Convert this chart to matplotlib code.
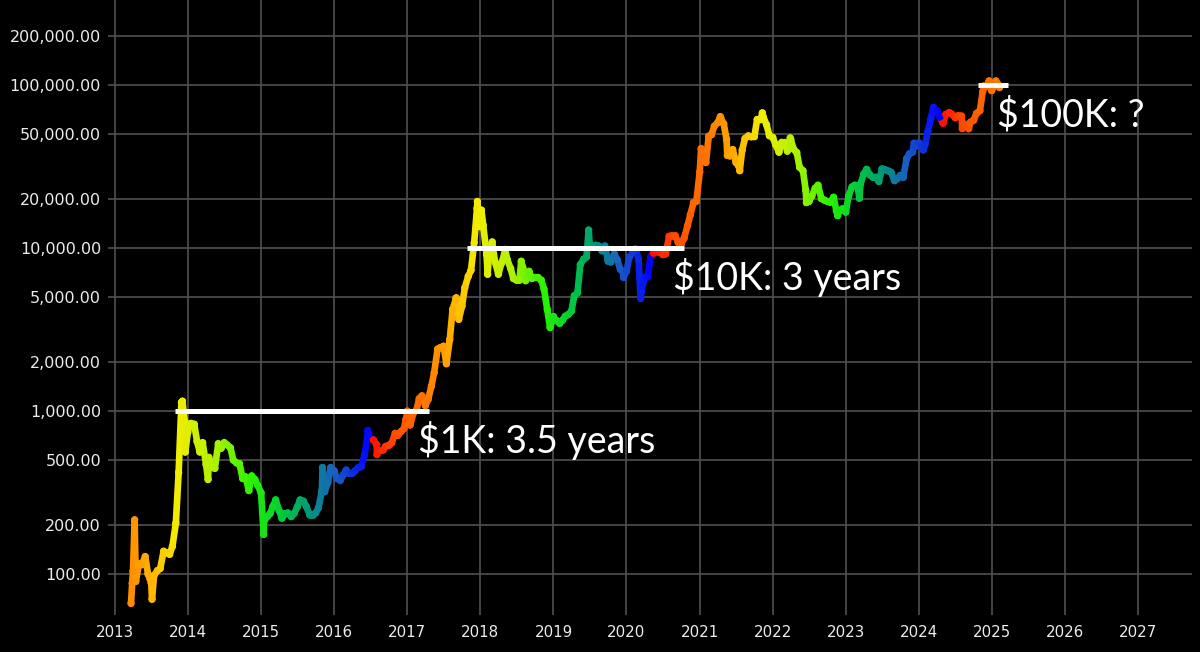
import numpy as np
import pandas as pd
import matplotlib
matplotlib.use("Agg")
import matplotlib.pyplot as plt
import matplotlib.dates as mdates
from matplotlib.collections import LineCollection
from matplotlib.colors import LinearSegmentedColormap
from matplotlib.ticker import FixedLocator, FuncFormatter, NullLocator
from datetime import datetime

# ---- price readings, semi-monthly (1st and 15th of each month) ----
prices_2013 = [104, 90, 116, 114, 128, 100, 88, 98, 105, 108, 138, 135,
               132, 148, 205, 420, 960, 870]            # from 2013-04-01
prices_2014 = [770, 840, 830, 650, 560, 640, 470, 520, 450, 445, 630, 590,
               640, 620, 595, 500, 480, 475, 385, 395, 325, 400, 380, 350]
prices_2015 = [315, 210, 225, 235, 260, 285, 245, 220, 235, 237, 225, 235,
               258, 285, 280, 260, 230, 230, 237, 255, 325, 320, 365, 450]
prices_2016 = [430, 385, 375, 405, 435, 415, 415, 430, 450, 455, 535, 690,
               675, 665, 620, 570, 575, 608, 615, 638, 730, 710, 750, 780]
prices_2017 = [1000, 820, 980, 1010, 1190, 1240, 1080, 1180, 1420, 1720, 2400, 2450,
               2500, 1950, 2750, 4200, 4900, 3650, 4400, 5700, 6700, 7300, 10800, 17500]
prices_2018 = [13500, 13800, 9100, 10100, 10900, 8200, 6900, 8000, 9200, 8500, 7500, 6500,
               6350, 6350, 7600, 6300, 7200, 6500, 6600, 6600, 6350, 5600, 4200, 3250]
prices_2019 = [3800, 3600, 3450, 3600, 3820, 3900, 4100, 5100, 5300, 7900, 8550, 8800,
               10600, 10200, 10400, 10300, 9600, 10300, 8300, 8200, 9200, 8500, 7400, 7100]
prices_2020 = [7200, 8800, 9400, 9900, 8550, 5350, 6600, 6650, 8800, 9300, 9500, 9400,
               9100, 9200, 11800, 11900, 11900, 10800, 10600, 11500, 13700, 16000, 19000, 19300]
prices_2021 = [29300, 36800, 33500, 48600, 49600, 56000, 58800, 63200, 57800, 46400, 36700, 40200,
               33500, 31800, 39900, 47000, 48800, 48100, 48200, 61500, 61300, 63600, 57000, 48900]
prices_2022 = [47700, 43100, 38700, 44500, 44400, 39300, 46300, 40500, 38500, 31300, 29800, 22500,
               19300, 20800, 23300, 24300, 20100, 19700, 19300, 19100, 20500, 16900, 17000, 17400]
prices_2023 = [16600, 20900, 23700, 24300, 23600, 24700, 28500, 30400, 28100, 27200, 27200, 25600,
               30600, 30300, 29700, 29200, 25900, 26600, 27900, 27100, 35400, 37900, 38700, 42000]
prices_2024 = [44200, 42500, 43100, 51900, 62400, 67900, 69700, 63400, 58300, 66200, 67800, 66200,
               62900, 64800, 64600, 57600, 57300, 59200, 60800, 67000, 69500, 91000, 97200, 104000]
prices_2025 = [94400, 100500, 100600]

# ---- extra readings at peaks / dips ----
extra_dates = ["2013-03-22", "2013-03-28", "2013-04-09", "2013-07-05", "2013-11-29",
               "2013-12-04", "2013-12-18", "2013-12-31", "2014-04-11", "2015-01-14",
               "2015-11-04", "2016-06-17", "2016-08-02", "2016-12-25", "2017-09-02",
               "2017-12-17", "2017-12-22", "2018-01-06", "2018-02-06", "2018-05-05",
               "2018-07-24", "2019-06-26", "2019-12-17", "2020-03-12", "2021-01-08",
               "2021-04-14", "2021-05-19", "2021-07-20", "2021-11-10", "2022-03-29",
               "2022-06-18", "2022-11-21", "2023-03-10", "2023-12-08", "2024-01-23",
               "2024-03-14", "2024-08-05", "2024-09-06", "2024-11-22", "2024-12-17",
               "2024-12-30", "2025-01-20", "2025-02-07"]
extra_prices = [66, 88, 215, 70, 1130,
                1150, 560, 740, 380, 175,
                450, 760, 540, 890, 4950,
                19300, 13800, 17100, 6900, 9800,
                8300, 12900, 6600, 4900, 40800,
                64000, 37000, 29800, 67500, 47400,
                19000, 15800, 20200, 44000, 39900,
                73000, 54000, 53900, 98900, 106000,
                92300, 106000, 96500]

# colour-cycle boundaries (halving cycles)
cycle_starts = ["2012-04-01", "2016-07-09", "2020-05-11", "2024-04-20", "2028-04-15"]

# milestone lines
level_values = [1000, 10000, 100000]
level_starts = ["2013-10-27", "2017-10-27", "2024-10-23"]
level_ends = ["2017-04-20", "2020-10-16", "2025-03-21"]
level_labels = ["$1K: 3.5 years", "$10K: 3 years", "$100K: ?"]

y_ticks = [100, 200, 500, 1000, 2000, 5000, 10000, 20000, 50000, 100000, 200000]

# ---- assemble series ----
semi_values = (prices_2013 + prices_2014 + prices_2015 + prices_2016 + prices_2017 +
               prices_2018 + prices_2019 + prices_2020 + prices_2021 + prices_2022 +
               prices_2023 + prices_2024 + prices_2025)
semi_dates = pd.date_range("2013-04-01", periods=len(semi_values), freq="SMS")
df = pd.DataFrame({"date": list(semi_dates) + list(pd.to_datetime(extra_dates)),
                   "price": semi_values + extra_prices}).sort_values("date").reset_index(drop=True)

cyc = pd.to_datetime(cycle_starts).values
dv = df["date"].values
idx = np.searchsorted(cyc, dv, side="right") - 1
frac = (dv - cyc[idx]) / (cyc[idx + 1] - cyc[idx])
frac = np.clip(frac.astype(float), 0, 1)

cmap = LinearSegmentedColormap.from_list("cycle", [
    (0.00, (1.00, 0.05, 0.00)),
    (0.08, (1.00, 0.30, 0.00)),
    (0.20, (1.00, 0.48, 0.00)),
    (0.30, (1.00, 0.72, 0.00)),
    (0.38, (0.95, 0.93, 0.00)),
    (0.50, (0.68, 0.95, 0.00)),
    (0.62, (0.15, 0.95, 0.00)),
    (0.72, (0.00, 0.78, 0.25)),
    (0.80, (0.00, 0.60, 0.47)),
    (0.88, (0.10, 0.38, 0.75)),
    (1.00, (0.00, 0.00, 1.00)),
])

# ---- figure ----
fig = plt.figure(figsize=(12, 6.52), dpi=100, facecolor="black")
ax = fig.add_axes([108 / 1200, 1 - 615 / 652, 1084 / 1200, 615 / 652])
ax.set_facecolor("black")
ax.set_yscale("log")

x = mdates.date2num(df["date"])
p = df["price"].values.astype(float)
segs = np.stack([np.column_stack([x[:-1], p[:-1]]), np.column_stack([x[1:], p[1:]])], axis=1)
lc = LineCollection(segs, colors=cmap(frac[1:]), linewidths=4.8, capstyle="round", zorder=2)
ax.add_collection(lc)
ax.scatter(x, p, c=frac, cmap=cmap, vmin=0, vmax=1, s=28, linewidths=0, zorder=3)

for lv, s0, s1, lab in zip(level_values, level_starts, level_ends, level_labels):
    d0, d1 = pd.Timestamp(s0), pd.Timestamp(s1)
    ax.hlines(lv, d0, d1, colors="white", linewidth=3.6, capstyle="butt", zorder=4)
    ax.annotate(lab, xy=(d1, lv), xytext=(-8, -30), textcoords="offset points",
                ha="left", va="baseline", color="white", fontsize=27,
                family=["Lato", "DejaVu Sans"], parse_math=False, zorder=5)

ax.set_xlim(datetime(2012, 11, 27), datetime(2027, 9, 27))
ax.set_ylim(56.05, 332400)
ax.xaxis.set_major_locator(mdates.YearLocator(1))
ax.xaxis.set_major_formatter(mdates.DateFormatter("%Y"))
ax.yaxis.set_major_locator(FixedLocator(y_ticks))
ax.yaxis.set_minor_locator(NullLocator())
ax.yaxis.set_major_formatter(FuncFormatter(lambda v, pos: f"{v:,.2f}"))

for sp in ax.spines.values():
    sp.set_visible(False)
ax.set_axisbelow(True)
ax.grid(True, which="major", color="#505050", linewidth=1.2)
ax.tick_params(axis="both", length=0, colors="#ececec")
ax.tick_params(axis="y", labelsize=11.5, pad=5)
ax.tick_params(axis="x", labelsize=10.8, pad=7)
for t in ax.get_xticklabels() + ax.get_yticklabels():
    t.set_family("DejaVu Sans")

fig.savefig("out.png", dpi=100, facecolor="black")
